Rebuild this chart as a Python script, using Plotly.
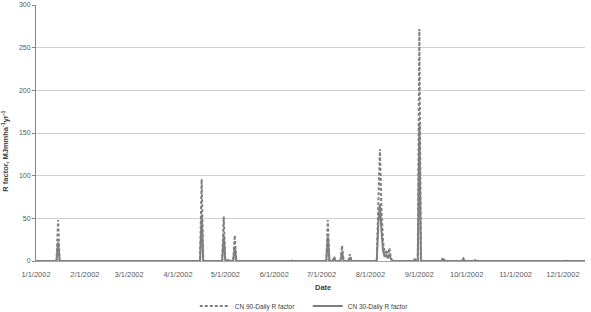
import pandas as pd
import plotly.graph_objects as go

# Event days (all other days are zero)
event_dates = [
    "2002-01-15", "2002-02-10", "2002-03-19", "2002-04-03", "2002-04-10",
    "2002-04-16", "2002-04-30", "2002-05-03", "2002-05-07", "2002-06-11",
    "2002-07-05", "2002-07-09", "2002-07-14", "2002-07-19",
    "2002-08-06", "2002-08-07", "2002-08-08", "2002-08-09", "2002-08-10",
    "2002-08-11", "2002-08-12", "2002-08-13", "2002-08-14",
    "2002-08-29", "2002-09-01", "2002-09-16", "2002-09-29", "2002-10-06",
    "2002-10-19", "2002-12-04",
]
cn90_values = [
    48, 0.5, 0.5, 0.5, 0.5,
    96, 52, 2, 30, 1,
    48, 5, 18, 8,
    68, 131, 58, 22, 9,
    13, 5, 15, 3,
    2, 272, 4, 3, 1,
    0.5, 1,
]
cn30_values = [
    22, 0.2, 0.2, 0.2, 0.2,
    54, 30, 1, 17, 0.5,
    28, 3, 10, 4,
    45, 66, 35, 12, 5,
    7, 3, 8, 2,
    1, 160, 2, 2, 0.5,
    0.2, 0.5,
]

days = pd.date_range("2002-01-01", "2002-12-31", freq="D")
cn90 = pd.Series(cn90_values, index=pd.to_datetime(event_dates)).reindex(days, fill_value=0)
cn30 = pd.Series(cn30_values, index=pd.to_datetime(event_dates)).reindex(days, fill_value=0)

tick_vals = pd.date_range("2002-01-01", "2002-12-01", freq="MS")
tick_text = [f"{d.month}/{d.day}/{d.year}" for d in tick_vals]

fig = go.Figure()
fig.add_trace(go.Scatter(
    x=days, y=cn90.values, mode="lines", name="CN 90-Daily R factor",
    line=dict(color="#7f7f7f", width=2, dash="3px,2px"),
))
fig.add_trace(go.Scatter(
    x=days, y=cn30.values, mode="lines", name="CN 30-Daily R factor",
    line=dict(color="#7f7f7f", width=2),
))

fnt = "Liberation Sans"
fig.update_layout(
    width=591, height=312,
    margin=dict(l=36, r=6, t=5, b=51, autoexpand=False),
    plot_bgcolor="white", paper_bgcolor="white",
    font=dict(family=fnt, size=7, color="#595959"),
    showlegend=True,
    legend=dict(orientation="h", x=0.495, y=-0.176, xanchor="center", yanchor="middle",
                font=dict(size=6.5, color="#404040"), itemwidth=30, tracegroupgap=0,
                entrywidth=68, entrywidthmode="pixels"),
    xaxis=dict(
        range=["2002-01-01", "2002-12-15"],
        tickvals=tick_vals, ticktext=tick_text,
        showgrid=False, showline=True, linecolor="#a6a6a6", linewidth=1,
        ticks="", tickfont=dict(size=7.5, color="#595959"),
        ticklabelstandoff=6,
        zeroline=False,
    ),
    yaxis=dict(
        range=[0, 300], dtick=50, tick0=0,
        showgrid=True, gridcolor="#cfcfcf", gridwidth=1,
        showline=True, linecolor="#868686", linewidth=1,
        ticks="outside", ticklen=3, tickcolor="#868686",
        tickfont=dict(size=7, color="#595959"),
        zeroline=False,
    ),
    annotations=[
        dict(text="<b>Date</b>", xref="paper", yref="paper", x=0.523, y=-0.105,
             showarrow=False, font=dict(size=7.5, color="#404040"), xanchor="center", yanchor="middle"),
        dict(text="<b>R factor, MJmmha<sup>-1</sup>yr<sup>-1</sup></b>", xref="paper", yref="paper",
             x=-0.057, y=0.43, textangle=-90, showarrow=False,
             font=dict(size=7.5, color="#404040"), xanchor="center", yanchor="middle"),
    ],
)

fig.write_html("out.html")
